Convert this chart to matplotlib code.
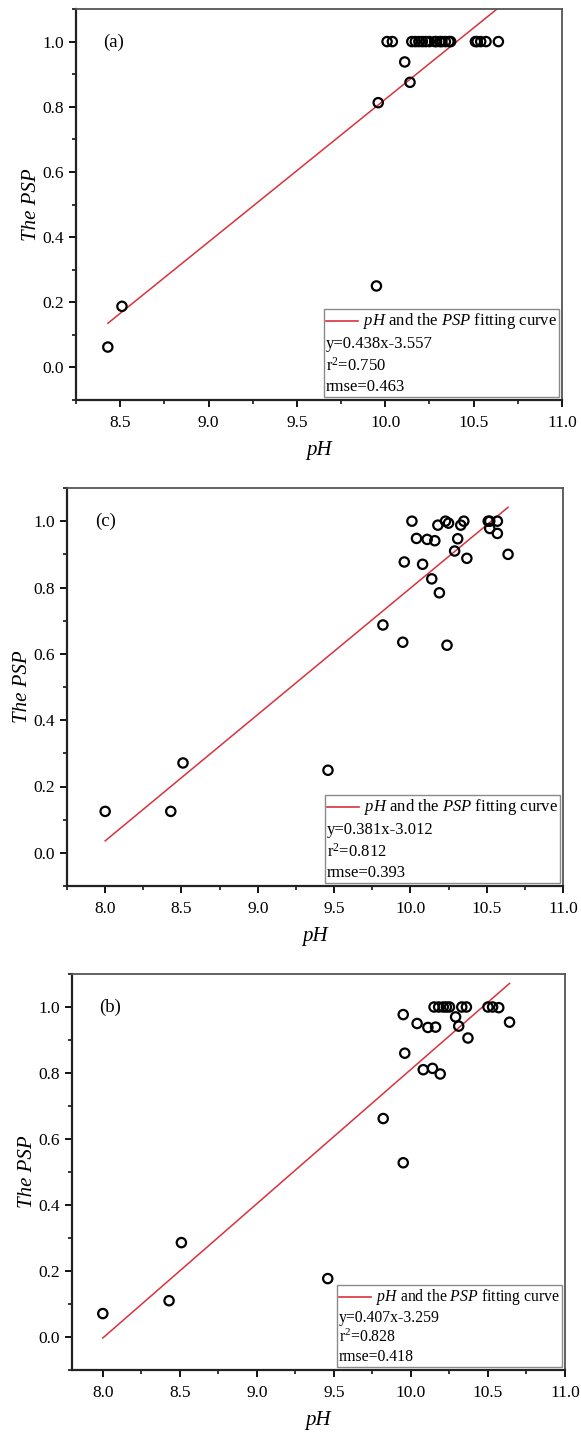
# pH vs PSP scatter plots with linear fitting curves, three stacked panels
import matplotlib
matplotlib.use("Agg")
import matplotlib.pyplot as plt
import numpy as np
from matplotlib.lines import Line2D
from matplotlib.offsetbox import AnchoredOffsetbox, VPacker, HPacker, TextArea, DrawingArea
from matplotlib.ticker import MultipleLocator, FormatStrFormatter

plt.rcParams["font.family"] = ["Liberation Serif", "DejaVu Serif"]
plt.rcParams["mathtext.fontset"] = "custom"
plt.rcParams["mathtext.rm"] = "Liberation Serif"
plt.rcParams["mathtext.it"] = "Liberation Serif:italic"

# Panel (a)
a_ph = [8.43, 8.51, 9.95, 9.96, 10.11, 10.14,
        10.01, 10.04, 10.15, 10.17, 10.19, 10.21, 10.23, 10.25, 10.28, 10.29,
        10.31, 10.32, 10.34, 10.36, 10.37, 10.51, 10.52, 10.54, 10.57, 10.64]
a_psp = [0.0625, 0.1875, 0.25, 0.8125, 0.9375, 0.875,
         1.0, 1.0, 1.0, 1.0, 1.0, 1.0, 1.0, 1.0, 1.0, 1.0,
         1.0, 1.0, 1.0, 1.0, 1.0, 1.0, 1.0, 1.0, 1.0, 1.0]
a_fit = (0.438, -3.557, "0.750", "0.463")

# Panel (c)
c_ph = [8.00, 8.43, 8.51, 9.46, 9.82, 9.95, 9.96, 10.01, 10.04, 10.08,
        10.11, 10.14, 10.16, 10.18, 10.19, 10.23, 10.24, 10.25, 10.29, 10.31,
        10.33, 10.35, 10.37, 10.51, 10.52, 10.52, 10.57, 10.57, 10.64]
c_psp = [0.125, 0.125, 0.271, 0.249, 0.687, 0.635, 0.877, 1.0, 0.948, 0.870,
         0.945, 0.826, 0.941, 0.988, 0.784, 1.0, 0.626, 0.994, 0.910, 0.947,
         0.988, 1.0, 0.888, 1.0, 1.0, 0.978, 1.0, 0.963, 0.900]
c_fit = (0.381, -3.012, "0.812", "0.393")

# Panel (b)
b_ph = [8.00, 8.43, 8.51, 9.46, 9.82, 9.95, 9.95, 9.96, 10.04, 10.08,
        10.11, 10.14, 10.16, 10.19, 10.15, 10.18, 10.21, 10.23, 10.25, 10.29,
        10.31, 10.33, 10.36, 10.37, 10.50, 10.53, 10.57, 10.64]
b_psp = [0.071, 0.110, 0.286, 0.177, 0.662, 0.528, 0.977, 0.860, 0.950, 0.810,
         0.938, 0.814, 0.939, 0.797, 1.0, 1.0, 1.0, 1.0, 1.0, 0.970,
         0.942, 1.0, 1.0, 0.906, 1.0, 1.0, 0.998, 0.954]
b_fit = (0.407, -3.259, "0.828", "0.418")

RED = "#d9323c"


def add_fit_legend(ax, slope, intercept, r2, rmse, fontsize, sep):
    """Legend box with the fitting curve and its statistics"""
    da = DrawingArea(23, 8, 0, 0)
    da.add_artist(Line2D([0, 23], [4, 4], color=RED, lw=1.2))
    label = TextArea(r"$\mathit{pH}$ and the $\mathit{PSP}$ fitting curve",
                     textprops=dict(fontsize=fontsize))
    rows = [HPacker(children=[da, label], align="center", pad=0, sep=4)]
    for t in [f"y={slope:.3f}x{intercept:.3f}", f"r$^2$={r2}", f"rmse={rmse}"]:
        rows.append(TextArea(t, textprops=dict(fontsize=fontsize)))
    vp = VPacker(children=rows, align="left", pad=0, sep=sep)
    box = AnchoredOffsetbox(loc="lower right", child=vp, pad=0.15,
                            borderpad=0.2, frameon=True)
    box.patch.set_edgecolor("#8a8a8a")
    box.patch.set_linewidth(1.0)
    ax.add_artist(box)


def draw_panel(ax, ph, psp, fit, tag, xmin, leg_size, leg_sep):
    slope, intercept, r2, rmse = fit
    ax.scatter(ph, psp, s=45, facecolors="none", edgecolors="black",
               linewidths=1.6, zorder=3)

    # Fitting line over the data range
    xs = np.array([min(ph), max(ph)])
    ax.plot(xs, slope * xs + intercept, color=RED, lw=1.1, zorder=2)

    ax.set_xlim(xmin, 11.0)
    ax.set_ylim(-0.1, 1.1)
    ax.xaxis.set_major_locator(MultipleLocator(0.5))
    ax.xaxis.set_minor_locator(MultipleLocator(0.25))
    ax.yaxis.set_major_locator(MultipleLocator(0.2))
    ax.yaxis.set_minor_locator(MultipleLocator(0.1))
    ax.xaxis.set_major_formatter(FormatStrFormatter("%.1f"))
    ax.yaxis.set_major_formatter(FormatStrFormatter("%.1f"))
    ax.tick_params(which="major", direction="out", length=5, width=1.3,
                   labelsize=12.5, colors="black")
    ax.tick_params(which="minor", direction="out", length=3, width=1.1)
    ax.tick_params(axis="x", which="major", pad=6)

    for side in ["left", "bottom"]:
        ax.spines[side].set_linewidth(1.6)
        ax.spines[side].set_color("#222222")
    for side in ["top", "right"]:
        ax.spines[side].set_linewidth(1.3)
        ax.spines[side].set_color("#555555")

    ax.set_xlabel("pH", fontsize=15, fontstyle="italic", labelpad=7)
    ax.set_ylabel("The PSP", fontsize=15, fontstyle="italic", labelpad=1)
    ax.text(0.056, 0.915, tag, transform=ax.transAxes, fontsize=13.5,
            ha="left", va="center")

    add_fit_legend(ax, slope, intercept, r2, rmse, leg_size, leg_sep)


fig = plt.figure(figsize=(5.81, 14.34), dpi=100)
W, H = 581, 1434

# (left, top, right, bottom) in pixels
boxes = [(76, 9, 562, 400), (67, 488, 563, 886), (72, 974, 565, 1370)]
panels = [(a_ph, a_psp, a_fit, "(a)", 8.25, 12, 3.5),
          (c_ph, c_psp, c_fit, "(c)", 7.75, 12, 3.5),
          (b_ph, b_psp, b_fit, "(b)", 7.8, 11.3, 2.2)]

for (l, t, r, b), (ph, psp, fit, tag, xmin, ls, lsep) in zip(boxes, panels):
    ax = fig.add_axes([l / W, 1 - b / H, (r - l) / W, (b - t) / H])
    draw_panel(ax, ph, psp, fit, tag, xmin, ls, lsep)

fig.savefig("out.png", dpi=100)
